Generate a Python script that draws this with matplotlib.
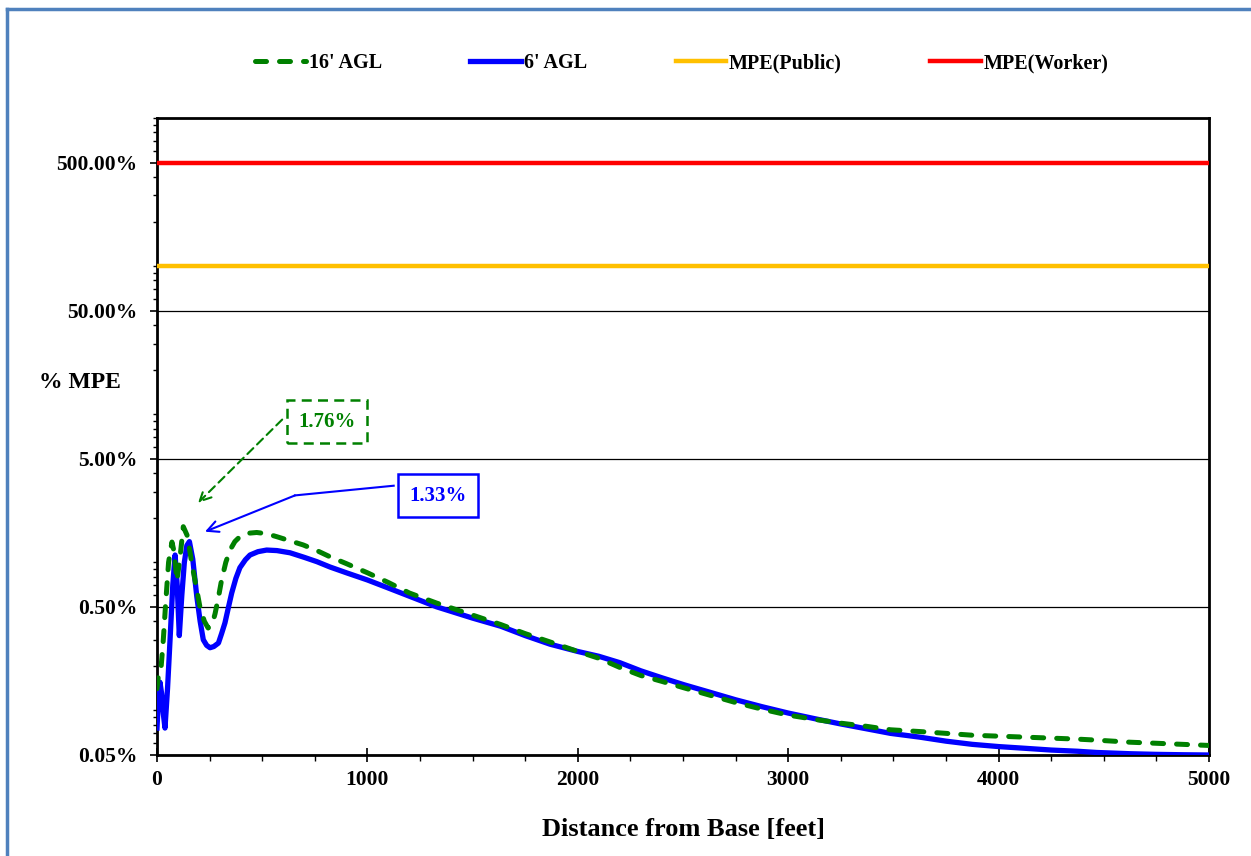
import matplotlib
matplotlib.use("Agg")
import matplotlib.pyplot as plt
import numpy as np
from matplotlib.lines import Line2D
from matplotlib.ticker import FixedLocator, FuncFormatter, LogLocator, MultipleLocator

plt.rcParams["font.family"] = ["Liberation Serif", "DejaVu Serif"]
plt.rcParams["font.weight"] = "bold"
plt.rcParams["axes.labelweight"] = "bold"

# 16' AGL (% of MPE)
X_16 = [0, 10, 20, 30, 40, 55, 71, 80, 95, 110, 125, 145, 165, 185, 204, 225, 243,
        262, 276, 292, 307, 327, 347, 370, 394, 430, 474, 520, 569, 630, 695, 760,
        822, 900, 1000, 1100, 1200, 1330, 1500, 1634, 1750, 1868, 2000, 2100, 2200,
        2300, 2400, 2505, 2625, 2750, 2875, 3000, 3125, 3250, 3375, 3486, 3625, 3750,
        3875, 4000, 4125, 4250, 4375, 4466, 4625, 4750, 4875, 5000]
Y_16 = [0.14, 0.19, 0.20, 0.30, 0.50, 1.00, 1.37, 1.20, 0.75, 1.10, 1.74, 1.50, 0.99,
        0.70, 0.50, 0.40, 0.36, 0.38, 0.45, 0.58, 0.76, 1.00, 1.21, 1.38, 1.49, 1.57,
        1.59, 1.56, 1.49, 1.40, 1.31, 1.20, 1.09, 0.98, 0.85, 0.73, 0.62, 0.53, 0.44,
        0.38, 0.33, 0.29, 0.25, 0.225, 0.195, 0.172, 0.157, 0.142, 0.127, 0.113, 0.102,
        0.093, 0.087, 0.082, 0.078, 0.074, 0.072, 0.070, 0.068, 0.067, 0.066, 0.065,
        0.064, 0.063, 0.061, 0.060, 0.059, 0.058]

# 6' AGL
X_6 = [0, 7, 14, 22, 30, 38, 50, 62, 75, 86, 96, 106, 118, 130, 142, 154, 170, 189,
       205, 220, 236, 252, 270, 292, 307, 323, 340, 355, 375, 394, 420, 442, 480, 521,
       570, 632, 700, 760, 822, 900, 1000, 1100, 1200, 1330, 1500, 1634, 1750, 1868,
       2000, 2100, 2200, 2300, 2400, 2505, 2625, 2750, 2875, 3000, 3125, 3250, 3375,
       3486, 3625, 3750, 3875, 4000, 4125, 4250, 4375, 4466, 4625, 4750, 4875, 5000]
Y_6 = [0.076, 0.12, 0.155, 0.13, 0.095, 0.076, 0.14, 0.30, 0.70, 1.12, 0.70, 0.32,
       0.60, 1.00, 1.30, 1.38, 1.05, 0.59, 0.40, 0.30, 0.275, 0.265, 0.27, 0.285,
       0.33, 0.39, 0.50, 0.62, 0.78, 0.92, 1.04, 1.12, 1.18, 1.21, 1.20, 1.16, 1.08,
       1.01, 0.93, 0.85, 0.76, 0.67, 0.59, 0.50, 0.42, 0.37, 0.32, 0.28, 0.25, 0.232,
       0.21, 0.185, 0.166, 0.149, 0.133, 0.118, 0.106, 0.096, 0.088, 0.081, 0.075,
       0.070, 0.066, 0.062, 0.059, 0.057, 0.0555, 0.054, 0.053, 0.052, 0.051, 0.0505,
       0.0502, 0.050]

MPE_PUBLIC = 100.0
MPE_WORKER = 500.0

PEAK_16 = "1.76%"
PEAK_6 = "1.33%"

GREEN = "#008000"
BLUE = "#0000FF"
GOLD = "#FFC000"
RED = "#FF0000"

W, H = 1251, 856
fig = plt.figure(figsize=(W / 100, H / 100), dpi=100)
ax = fig.add_axes([157 / W, 1 - 755 / H, (1209 - 157) / W, (755 - 118) / H])

ax.set_yscale("log")
ax.set_xlim(0, 5000)
ax.set_ylim(0.05, 1000)

h_pub = ax.axhline(MPE_PUBLIC, color=GOLD, lw=3.2, zorder=3)
h_wrk = ax.axhline(MPE_WORKER, color=RED, lw=3.2, zorder=3)
h6, = ax.plot(X_6, Y_6, color=BLUE, lw=3.8, zorder=4, solid_joinstyle="round")
h16, = ax.plot(X_16, Y_16, color=GREEN, lw=3.6, zorder=5,
               dashes=(2.2, 2.6), dash_capstyle="round")

# ticks / grid
ax.yaxis.set_major_locator(FixedLocator([0.05, 0.5, 5, 50, 500]))
ax.yaxis.set_minor_locator(LogLocator(base=10, subs=np.arange(1, 10)))
ax.yaxis.set_major_formatter(FuncFormatter(lambda v, _: f"{v:.2f}%"))
ax.yaxis.set_minor_formatter(FuncFormatter(lambda v, _: ""))
ax.xaxis.set_major_locator(MultipleLocator(1000))
ax.xaxis.set_minor_locator(MultipleLocator(250))
ax.tick_params(axis="y", which="major", direction="out", length=5, width=1.2,
               labelsize=15.5, pad=9)
ax.tick_params(axis="y", which="minor", direction="out", length=3, width=1)
ax.tick_params(axis="x", which="major", direction="inout", length=10, width=1.2,
               labelsize=15.5, pad=6)
ax.tick_params(axis="x", which="minor", direction="out", length=4, width=1)
ax.set_axisbelow(True)
ax.yaxis.grid(True, which="major", color="black", lw=0.9)
for s in ax.spines.values():
    s.set_linewidth(2.0)

ax.set_xlabel("Distance from Base [feet]", fontsize=19, fontweight="bold", labelpad=20)
fig.text(80 / W, 1 - 383 / H, "% MPE", fontsize=17, fontweight="bold",
         ha="center", va="center")

# callouts
ax.text(808, 8.9, PEAK_16, color=GREEN, fontsize=15, ha="center", va="center",
        zorder=6, bbox=dict(boxstyle="square,pad=0.55", fc="white", ec=GREEN,
                            lw=1.8, ls=(0, (4, 2.5))))
ax.annotate("", xy=(195, 2.52), xytext=(595, 9.2),
            arrowprops=dict(arrowstyle="->", color=GREEN, lw=1.5, ls=(0, (4, 2.5)),
                            mutation_scale=20, shrinkA=0, shrinkB=0))

ax.text(1336, 2.81, PEAK_6, color=BLUE, fontsize=15, ha="center", va="center",
        zorder=6, bbox=dict(boxstyle="square,pad=0.55", fc="white", ec=BLUE, lw=1.8))
ax.plot([1125, 656], [3.29, 2.83], color=BLUE, lw=1.5, zorder=5)
ax.annotate("", xy=(228, 1.61), xytext=(656, 2.83),
            arrowprops=dict(arrowstyle="->", color=BLUE, lw=1.5,
                            mutation_scale=20, shrinkA=0, shrinkB=0))

fig.legend([h16, h6, h_pub, h_wrk],
           ["16' AGL", "6' AGL", "MPE(Public)", "MPE(Worker)"],
           loc="center", bbox_to_anchor=(682 / W, 1 - 63 / H), ncol=4,
           frameon=False, fontsize=14.5, handlelength=2.5, handletextpad=0.15,
           columnspacing=4.4)

# frame edges visible in the reference (left and top)
fig.add_artist(Line2D([6.5 / W, 6.5 / W], [0, 1 - 8.5 / H],
                      transform=fig.transFigure, color="#4F81BD", lw=2.5))
fig.add_artist(Line2D([6.5 / W, 1], [1 - 8.5 / H, 1 - 8.5 / H],
                      transform=fig.transFigure, color="#4F81BD", lw=2.5))

fig.savefig("out.png", dpi=100)
